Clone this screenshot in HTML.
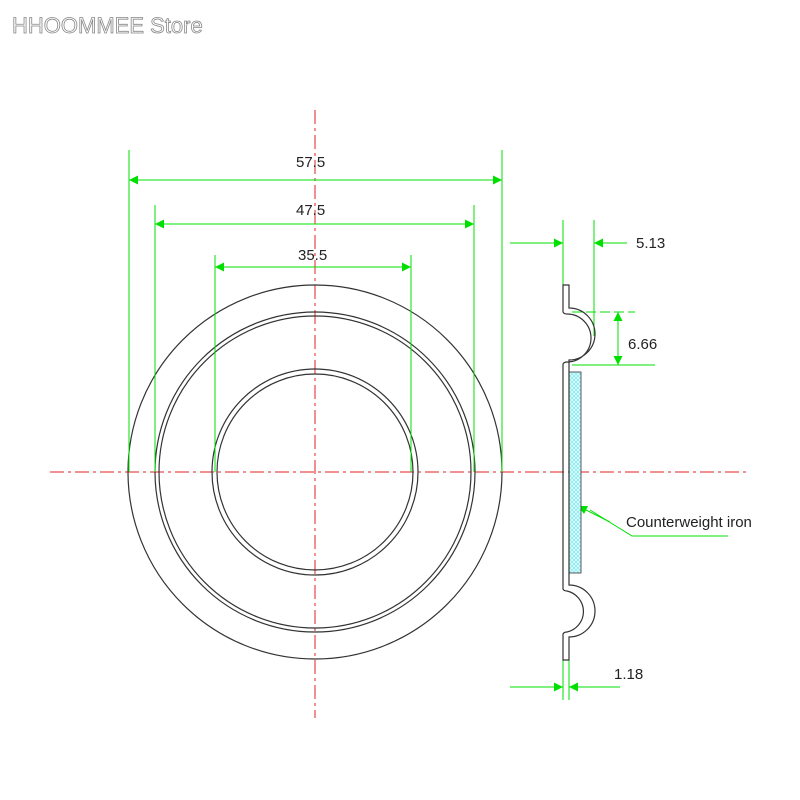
<!DOCTYPE html>
<html><head><style>body{margin:0;background:#fff}svg{display:block}</style></head><body>
<svg width="800" height="800" viewBox="0 0 800 800" xmlns="http://www.w3.org/2000/svg">
<defs>
<marker id="a" viewBox="0 0 10 10" refX="10" refY="5" markerWidth="18" markerHeight="9" orient="auto-start-reverse" markerUnits="userSpaceOnUse"><path d="M0,0 L10,5 L0,10 z" fill="#00e000"/></marker>
<pattern id="h" width="4" height="4" patternUnits="userSpaceOnUse"><rect width="4" height="4" fill="#8ee8ee"/><path d="M0,0 L4,4 M4,0 L0,4" stroke="#dff" stroke-width="0.8"/></pattern>
</defs>
<text x="12" y="33" font-family="Liberation Sans, sans-serif" font-size="22" fill="#fff" stroke="#888" stroke-width="0.8">HHOOMMEE Store</text>
<g stroke="#e02020" stroke-width="1" stroke-dasharray="14,4,3,4" fill="none">
<line x1="315" y1="110" x2="315" y2="718"/>
<line x1="50" y1="472" x2="750" y2="472"/>
</g>
<g fill="none" stroke="#333" stroke-width="1.2">
<circle cx="315" cy="472" r="187"/>
<circle cx="315" cy="472" r="160"/>
<circle cx="315" cy="472" r="156"/>
<circle cx="315" cy="472" r="103"/>
<circle cx="315" cy="472" r="98"/>
</g>
<g stroke="#00e000" stroke-width="1" fill="none">
<line x1="129" y1="150" x2="129" y2="472"/><line x1="502" y1="150" x2="502" y2="472"/>
<line x1="155" y1="205" x2="155" y2="472"/><line x1="474" y1="205" x2="474" y2="472"/>
<line x1="215" y1="255" x2="215" y2="472"/><line x1="411" y1="255" x2="411" y2="472"/>
<line x1="129" y1="180" x2="502" y2="180" marker-start="url(#a)" marker-end="url(#a)"/>
<line x1="155" y1="224" x2="474" y2="224" marker-start="url(#a)" marker-end="url(#a)"/>
<line x1="215" y1="267" x2="411" y2="267" marker-start="url(#a)" marker-end="url(#a)"/>
<line x1="563" y1="220" x2="563" y2="285"/><line x1="594" y1="220" x2="594" y2="336"/>
<line x1="510" y1="243" x2="563" y2="243" marker-end="url(#a)"/>
<line x1="627" y1="243" x2="594" y2="243" marker-end="url(#a)"/>
<line x1="572" y1="312" x2="635" y2="312" stroke-dasharray="10,4"/>
<line x1="572" y1="365" x2="655" y2="365"/>
<line x1="618" y1="312" x2="618" y2="365" marker-start="url(#a)" marker-end="url(#a)"/>
<line x1="563" y1="660" x2="563" y2="700"/><line x1="569" y1="660" x2="569" y2="700"/>
<line x1="510" y1="687" x2="563" y2="687" marker-end="url(#a)"/>
<line x1="620" y1="687" x2="569" y2="687" marker-end="url(#a)"/>
<polyline points="728,536 632,536 590,510" />
<line x1="610" y1="522" x2="578" y2="506" marker-end="url(#a)"/>
</g>
<rect x="569" y="372" width="12" height="201" fill="url(#h)" stroke="#333" stroke-width="0.8"/>
<g fill="none" stroke="#333" stroke-width="1.2">
<path d="M563,309 L563,285 L569,285 L569,308 A26,26 0 0 1 569,360 L569,585 A26,26 0 0 1 569,637 L569,660 L563,660 L563,634 Q564,632 567,632 A21,21 0 0 0 567,591 Q564,591 563,589 L563,364 Q564,362 567,362 A21,21 0 0 0 567,314 Q564,314 563,312 Z"/>
</g>
<g font-family="Liberation Sans, sans-serif" font-size="15" fill="#222">
<text x="296" y="167">57.5</text>
<text x="296" y="215">47.5</text>
<text x="298" y="260">35.5</text>
<text x="636" y="248">5.13</text>
<text x="628" y="349">6.66</text>
<text x="614" y="679">1.18</text>
<text x="626" y="527">Counterweight iron</text>
</g>
</svg>
</body></html>
